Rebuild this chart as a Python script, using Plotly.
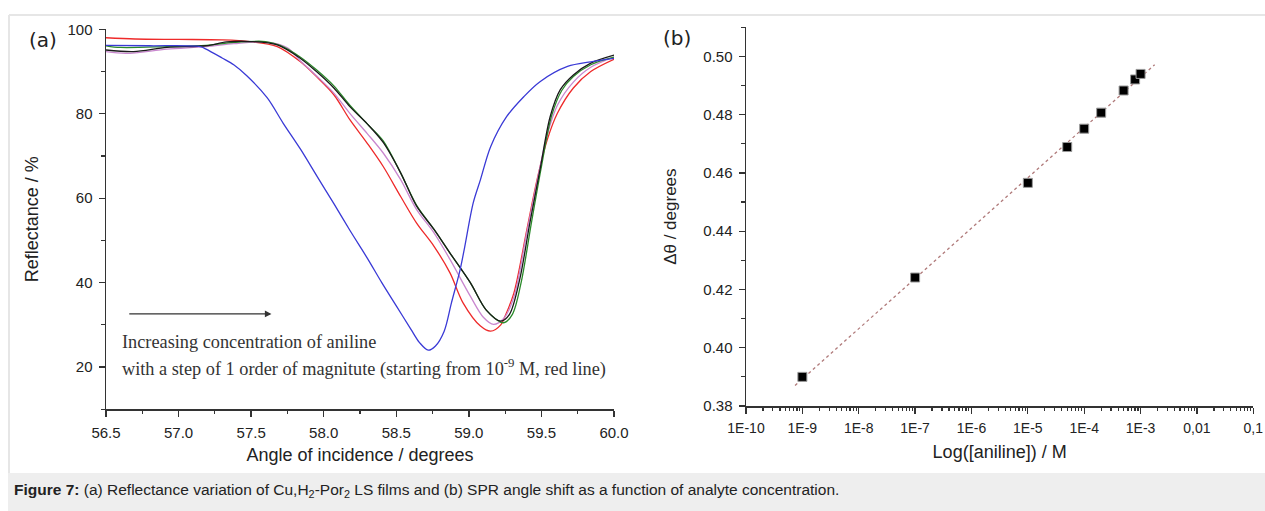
import numpy as np
import plotly.graph_objects as go

# ---------------- Panel (a): SPR reflectance curves ----------------
red_x = [56.50, 56.70, 57.00, 57.30, 57.49, 57.68, 57.84, 57.95, 58.07, 58.18, 58.30, 58.41, 58.53, 58.64,
         58.76, 58.87, 58.96, 59.08, 59.15, 59.22, 59.25, 59.31, 59.40, 59.47, 59.54, 59.61, 59.72, 59.84, 60.00]
red_y = [98.0, 97.7, 97.6, 97.5, 97.1, 95.9, 92.3, 88.8, 84.5, 78.6, 73.0, 67.5, 60.4, 54.1,
         48.6, 42.3, 35.2, 29.7, 28.5, 30.0, 32.1, 37.5, 52.6, 64.4, 73.8, 80.1, 86.1, 90.0, 92.9]

plum_x = [56.50, 56.64, 56.92, 57.19, 57.38, 57.60, 57.75, 57.84, 57.95, 58.07, 58.18, 58.30, 58.41, 58.53,
          58.64, 58.76, 58.87, 59.01, 59.10, 59.17, 59.24, 59.31, 59.40, 59.47, 59.54, 59.61, 59.72, 59.84, 60.00]
plum_y = [94.7, 94.3, 95.3, 95.9, 96.6, 97.0, 95.6, 92.5, 89.0, 84.9, 80.1, 75.3, 70.7, 64.4,
          57.3, 51.8, 45.5, 36.8, 31.8, 30.1, 31.5, 36.5, 52.0, 64.0, 75.0, 82.0, 87.5, 91.0, 93.4]

green_x = [56.50, 56.60, 56.92, 57.19, 57.38, 57.60, 57.70, 57.84, 57.95, 58.07, 58.18, 58.30, 58.41, 58.53,
           58.64, 58.76, 58.87, 59.01, 59.12, 59.24, 59.30, 59.36, 59.43, 59.50, 59.57, 59.64, 59.72, 59.84, 60.00]
green_y = [96.1, 95.7, 95.9, 96.2, 96.9, 97.1, 96.2, 93.4, 90.4, 86.6, 82.0, 77.6, 73.6, 66.0,
           58.3, 52.6, 47.0, 40.0, 33.5, 30.5, 32.5, 40.0, 54.0, 67.5, 79.5, 85.5, 88.8, 91.6, 93.4]

black_x = [56.50, 56.69, 56.92, 57.19, 57.33, 57.50, 57.68, 57.84, 57.95, 58.07, 58.18, 58.30, 58.41, 58.53,
           58.64, 58.76, 58.87, 59.01, 59.12, 59.22, 59.28, 59.35, 59.42, 59.49, 59.56, 59.63, 59.72, 59.84, 60.00]
black_y = [95.1, 94.7, 95.7, 96.1, 97.0, 97.1, 96.3, 93.1, 90.0, 86.1, 81.7, 77.6, 73.2, 66.0,
           58.1, 52.6, 47.0, 40.0, 33.5, 30.9, 32.5, 40.7, 54.1, 66.7, 79.3, 85.7, 89.2, 92.0, 93.9]

blue_x = [56.50, 56.80, 57.15, 57.19, 57.30, 57.38, 57.47, 57.61, 57.72, 57.84, 57.95, 58.07, 58.18, 58.30,
          58.40, 58.50, 58.60, 58.66, 58.72, 58.77, 58.83, 58.88, 58.94, 58.97, 59.03, 59.08, 59.15, 59.26,
          59.38, 59.49, 59.68, 59.84, 60.00]
blue_y = [96.2, 96.1, 95.9, 95.3, 93.2, 91.6, 89.0, 83.8, 77.8, 71.6, 65.4, 58.7, 52.4, 45.8,
          40.0, 34.5, 29.0, 25.8, 24.0, 25.0, 28.5, 35.2, 43.1, 48.2, 58.9, 64.4, 72.2, 79.3,
          84.1, 87.6, 91.2, 92.3, 93.1]

# ---------------- Panel (b): SPR angle shift vs concentration ----------------
conc_M = [1e-9, 1e-7, 1e-5, 5e-5, 1e-4, 2e-4, 5e-4, 8e-4, 1e-3]
shift_deg = [0.390, 0.4241, 0.4566, 0.4689, 0.4752, 0.4807, 0.4883, 0.4921, 0.4940]
fit_range_log = [-9.13, -2.75]

xb_tickvals = [1e-10, 1e-9, 1e-8, 1e-7, 1e-6, 1e-5, 1e-4, 1e-3, 1e-2, 1e-1]
xb_ticktext = ["1E-10", "1E-9", "1E-8", "1E-7", "1E-6", "1E-5", "1E-4", "1E-3", "0,01", "0,1"]

W, H = 1265, 511
def px(x):
    return x / W
def py(y):
    return 1 - y / H

AX = "#333333"
TXT = "#222222"
SANS = "Liberation Sans, Arial, sans-serif"

fig = go.Figure()

curves = [
    (red_x, red_y, "#ee2a2a"),
    (plum_x, plum_y, "#c987cf"),
    (green_x, green_y, "#2a8a2a"),
    (black_x, black_y, "#1a1a1a"),
    (blue_x, blue_y, "#3a3ad6"),
]
for xs, ys, col in curves:
    fig.add_trace(go.Scatter(x=xs, y=ys, mode="lines", line=dict(color=col, width=1.3, shape="spline", smoothing=0.9),
                             xaxis="x", yaxis="y", showlegend=False, hoverinfo="skip"))

# fit line (b)
logc = np.log10(conc_M)
slope, intercept = np.polyfit(logc, shift_deg, 1)
fx = np.array(fit_range_log)
fig.add_trace(go.Scatter(x=10 ** fx, y=slope * fx + intercept, mode="lines",
                         line=dict(color="#b07a7a", width=1.3, dash="dot"),
                         xaxis="x2", yaxis="y2", showlegend=False, hoverinfo="skip"))
fig.add_trace(go.Scatter(x=conc_M, y=shift_deg, mode="markers",
                         marker=dict(symbol="square", size=9, color="#000000", line=dict(color="#999999", width=1)),
                         xaxis="x2", yaxis="y2", showlegend=False, hoverinfo="skip"))

axis_common = dict(showline=True, linecolor=AX, linewidth=1.5, ticks="outside", ticklen=6, tickwidth=1.3,
                   tickcolor=AX, showgrid=False, zeroline=False, mirror=False, automargin=False,
                   ticklabelstandoff=3, tickfont=dict(family=SANS, size=15, color=TXT))

minor_lin = lambda d: dict(ticks="outside", ticklen=3.5, tickwidth=1.2, tickcolor=AX, dtick=d, showgrid=False)

minor_log_vals = [m * 10.0 ** k for k in range(-10, -1) for m in range(2, 10)]

fig.update_layout(
    width=W, height=H, autosize=False,
    margin=dict(l=0, r=0, t=0, b=0, pad=0),
    paper_bgcolor="white", plot_bgcolor="white",
    xaxis=dict(domain=[px(106), px(614)], range=[56.5, 60.0], dtick=0.5, tickformat=".1f", anchor="y",
               minor=minor_lin(0.25),
               title=dict(text="Angle of incidence / degrees", font=dict(family=SANS, size=18, color=TXT), standoff=8),
               **axis_common),
    yaxis=dict(domain=[py(409.3), py(29.3)], range=[10, 100], dtick=20, tick0=0, anchor="x",
               minor=minor_lin(10),
               title=dict(text="Reflectance / %", font=dict(family=SANS, size=18, color=TXT), standoff=24),
               **axis_common),
    xaxis2=dict(domain=[px(746), px(1253.3)], type="log", range=[-10, -1], anchor="y2",
                tickmode="array", tickvals=xb_tickvals, ticktext=xb_ticktext,
                minor=dict(ticks="outside", ticklen=3.5, tickwidth=1.2, tickcolor=AX, tickmode="array",
                           tickvals=minor_log_vals, showgrid=False),
                title=dict(text="Log([aniline]) / M", font=dict(family=SANS, size=18, color=TXT), standoff=10),
                **{**axis_common, "tickfont": dict(family=SANS, size=14, color=TXT)}),
    yaxis2=dict(domain=[py(406), py(27.3)], range=[0.38, 0.51], dtick=0.02, tick0=0.38, tickformat=".2f", anchor="x2",
                minor=minor_lin(0.01),
                title=dict(text="Δθ / degrees", font=dict(family=SANS, size=17, color=TXT), standoff=22),
                **axis_common),
)

# arrow and annotation text in panel (a)
fig.add_annotation(x=57.64, y=32.6, ax=56.65, ay=32.6, xref="x", yref="y", axref="x", ayref="y",
                   text="", showarrow=True, arrowhead=2, arrowsize=1.2, arrowwidth=1.1, arrowcolor="#333333")
SERIF = "Liberation Serif, Times New Roman, serif"
fig.add_annotation(x=56.597, y=25.9, xref="x", yref="y", xanchor="left", yanchor="middle", showarrow=False,
                   text="Increasing concentration of aniline", font=dict(family=SERIF, size=18.3, color="#333333"))
fig.add_annotation(x=56.597, y=19.7, xref="x", yref="y", xanchor="left", yanchor="middle", showarrow=False,
                   text="with a step of 1 order of magnitute (starting from 10<sup>-9</sup> M, red line)",
                   font=dict(family=SERIF, size=18.3, color="#333333"))

# panel labels
fig.add_annotation(x=px(27), y=py(40), xref="paper", yref="paper", xanchor="left", yanchor="middle",
                   showarrow=False, text="(a)", font=dict(family="DejaVu Sans", size=20, color=TXT))
fig.add_annotation(x=px(661), y=py(38), xref="paper", yref="paper", xanchor="left", yanchor="middle",
                   showarrow=False, text="(b)", font=dict(family="DejaVu Sans", size=20, color=TXT))

# frame and caption box
fig.add_shape(type="line", xref="paper", yref="paper", x0=px(9), x1=1, y0=py(15), y1=py(15),
              line=dict(color="#e6e6e6", width=2))
fig.add_shape(type="line", xref="paper", yref="paper", x0=px(9), x1=px(9), y0=py(15), y1=py(473),
              line=dict(color="#e6e6e6", width=2))
fig.add_shape(type="rect", xref="paper", yref="paper", x0=px(8), x1=1, y0=0, y1=py(473),
              line=dict(width=0), fillcolor="#eeeeee", layer="below")
fig.add_annotation(x=px(12), y=py(490), xref="paper", yref="paper", xanchor="left", yanchor="middle",
                   showarrow=False,
                   text="<b>Figure 7:</b> (a) Reflectance variation of Cu,H<sub>2</sub>-Por<sub>2</sub> LS films and (b) SPR angle shift as a function of analyte concentration.",
                   font=dict(family=SANS, size=15.5, color="#222222"))

fig.write_html("out.html", config={"displayModeBar": False, "staticPlot": True},
               post_script="document.body.style.margin='0px';document.body.style.overflow='hidden';"
                           "document.documentElement.style.overflow='hidden';")
